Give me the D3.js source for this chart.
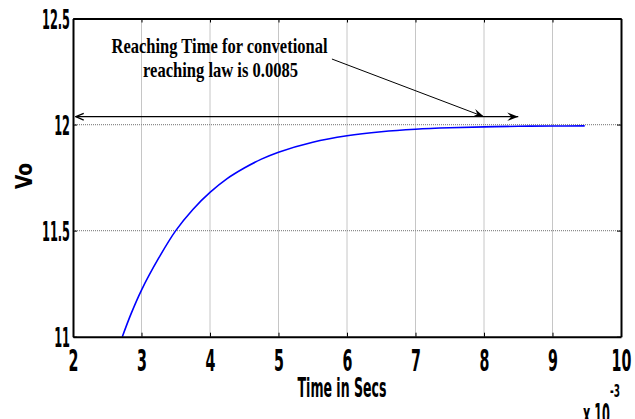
<!DOCTYPE html>
<html lang="en">
<head>
<meta charset="utf-8">
<title>Vo reaching time</title>
<script src="https://cdn.jsdelivr.net/npm/d3@7"></script>
<style>
  body { margin: 0; background: #fff; }
  svg { display: block; }
</style>
</head>
<body>
<script type="text/javascript">

    var width = 635;
    var height = 419;

    // time (x 10^-3 s) and output voltage
    var timeMs = [2.72, 2.85, 3.00, 3.25, 3.50, 3.75, 4.00, 4.25, 4.50, 4.75, 5.00,
                  5.50, 6.00, 6.50, 7.00, 7.50, 8.00, 8.50, 9.00, 9.47];
    var vo = [11.00, 11.11, 11.22, 11.37, 11.50, 11.60, 11.68, 11.745, 11.795, 11.837, 11.87,
              11.917, 11.947, 11.966, 11.978, 11.985, 11.989, 11.992, 11.993, 11.994];

    var xTicks = [2, 3, 4, 5, 6, 7, 8, 9, 10];
    var yTicks = [11, 11.5, 12, 12.5];

    // annotation: double arrow 2 -> 8.5 at 12.037, pointer from text to (8, 12.037)
    var spanArrow = [[2.04, 12.037], [8.5, 12.037]];
    var pointerArrow = [[5.78, 12.309], [8.0, 12.037]];
    var noteLines = ["Reaching Time for convetional", "reaching law is 0.0085"];

    var plotLeft = 73, plotRight = 621, plotTop = 18.5, plotBottom = 336.7;

    var x = d3.scaleLinear().domain([2, 10]).range([plotLeft, plotRight]);
    var y = d3.scaleLinear().domain([11, 12.5]).range([plotBottom, plotTop]);

    var svg = d3.select("body").append("svg")
        .attr("width", width)
        .attr("height", height);

    var defs = svg.append("defs");
    defs.append("marker")
        .attr("id", "head")
        .attr("markerUnits", "userSpaceOnUse")
        .attr("viewBox", "-12 -5 13 10")
        .attr("refX", 0).attr("refY", 0)
        .attr("markerWidth", 13).attr("markerHeight", 10)
        .attr("orient", "auto")
        .append("path")
        .attr("d", "M0,0 L-11,-4.2 L-7,0 L-11,4.2 Z")
        .attr("fill", "black");
    defs.append("marker")
        .attr("id", "openhead")
        .attr("markerUnits", "userSpaceOnUse")
        .attr("viewBox", "-10 -5 11 10")
        .attr("refX", 0).attr("refY", 0)
        .attr("markerWidth", 11).attr("markerHeight", 10)
        .attr("orient", "auto-start-reverse")
        .append("path")
        .attr("d", "M-8,-3.4 L0,0 L-8,3.4")
        .attr("fill", "none")
        .attr("stroke", "black")
        .attr("stroke-width", 1.3);

    // grid
    svg.append("g").selectAll("line")
        .data(xTicks.slice(1, -1))
        .enter().append("line")
        .attr("x1", function (d) { return x(d); })
        .attr("x2", function (d) { return x(d); })
        .attr("y1", plotTop).attr("y2", plotBottom)
        .attr("stroke", "#8c8c8c")
        .attr("stroke-width", 1)
        .attr("stroke-dasharray", "1,1");
    svg.append("g").selectAll("line")
        .data(yTicks.slice(1, -1))
        .enter().append("line")
        .attr("y1", function (d) { return y(d); })
        .attr("y2", function (d) { return y(d); })
        .attr("x1", plotLeft).attr("x2", plotRight)
        .attr("stroke", "#8c8c8c")
        .attr("stroke-width", 1.2)
        .attr("stroke-dasharray", "1,1");

    // curve
    var line = d3.line()
        .x(function (d, i) { return x(timeMs[i]); })
        .y(function (d, i) { return y(vo[i]); })
        .curve(d3.curveCatmullRom);
    svg.append("path")
        .datum(vo)
        .attr("d", line)
        .attr("fill", "none")
        .attr("stroke", "#0000ff")
        .attr("stroke-width", 1.6);

    // axes with inward ticks on all four sides
    var sxX = 0.46, sxY = 0.42;
    var gx = svg.append("g")
        .attr("transform", "translate(0," + plotBottom + ")")
        .call(d3.axisBottom(x).tickValues(xTicks).tickSizeInner(-4).tickSizeOuter(0).tickFormat(d3.format("d")));
    gx.selectAll("text")
        .attr("font-family", "'DejaVu Sans', sans-serif")
        .attr("font-weight", "bold")
        .attr("font-size", 31)
        .attr("fill", "black")
        .attr("dy", null)
        .attr("y", 34)
        .attr("transform", "scale(" + sxX + ",1)");
    var gy = svg.append("g")
        .attr("transform", "translate(" + plotLeft + ",0)")
        .call(d3.axisLeft(y).tickValues(yTicks).tickSizeInner(-4).tickSizeOuter(0).tickFormat(function (d) { return d; }));
    gy.selectAll("text")
        .attr("font-family", "'DejaVu Sans', sans-serif")
        .attr("font-weight", "bold")
        .attr("font-size", 27)
        .attr("fill", "black")
        .attr("dy", "0.36em")
        .attr("x", -3 / sxY)
        .attr("transform", "scale(" + sxY + ",1)");
    svg.append("g")
        .attr("transform", "translate(0," + plotTop + ")")
        .call(d3.axisTop(x).tickValues(xTicks).tickSizeInner(-4).tickSizeOuter(0).tickFormat(""));
    svg.append("g")
        .attr("transform", "translate(" + plotRight + ",0)")
        .call(d3.axisRight(y).tickValues(yTicks).tickSizeInner(-4).tickSizeOuter(0).tickFormat(""));
    svg.selectAll(".domain").attr("stroke", "black").attr("stroke-width", 2);
    svg.selectAll(".tick line").attr("stroke", "black");

    // annotation
    svg.append("line")
        .attr("x1", x(spanArrow[0][0])).attr("y1", y(spanArrow[0][1]))
        .attr("x2", x(spanArrow[1][0])).attr("y2", y(spanArrow[1][1]))
        .attr("stroke", "black").attr("stroke-width", 1.2)
        .attr("marker-start", "url(#openhead)")
        .attr("marker-end", "url(#head)");
    svg.append("line")
        .attr("x1", x(pointerArrow[0][0])).attr("y1", y(pointerArrow[0][1]))
        .attr("x2", x(pointerArrow[1][0])).attr("y2", y(pointerArrow[1][1]))
        .attr("stroke", "black").attr("stroke-width", 1)
        .attr("marker-end", "url(#head)");

    var noteX = [111.5, 143];
    var noteW = [216, 155];
    var noteY = [53, 76.5];
    svg.append("g").selectAll("text")
        .data(noteLines)
        .enter().append("text")
        .attr("x", function (d, i) { return noteX[i]; })
        .attr("y", function (d, i) { return noteY[i]; })
        .attr("textLength", function (d, i) { return noteW[i]; })
        .attr("lengthAdjust", "spacingAndGlyphs")
        .attr("font-family", "'Liberation Serif', 'Times New Roman', serif")
        .attr("font-weight", "bold")
        .attr("font-size", 22)
        .attr("fill", "black")
        .text(function (d) { return d; });

    // axis titles
    svg.append("text")
        .attr("x", 297.5).attr("y", 396.5)
        .attr("textLength", 89)
        .attr("lengthAdjust", "spacingAndGlyphs")
        .attr("font-family", "'DejaVu Sans', sans-serif")
        .attr("font-weight", "bold")
        .attr("font-size", 26)
        .text("Time in Secs");

    svg.append("text")
        .attr("transform", "translate(31.5,176) rotate(-90)")
        .attr("text-anchor", "middle")
        .attr("font-family", "'DejaVu Sans', sans-serif")
        .attr("font-weight", "bold")
        .attr("font-size", 23)
        .attr("textLength", 26)
        .attr("lengthAdjust", "spacingAndGlyphs")
        .text("Vo");

    svg.append("text")
        .attr("x", 583).attr("y", 425)
        .attr("font-family", "'DejaVu Sans', sans-serif")
        .attr("font-weight", "bold")
        .attr("font-size", 30)
        .attr("textLength", 27)
        .attr("lengthAdjust", "spacingAndGlyphs")
        .text("x 10");
    svg.append("text")
        .attr("x", 610).attr("y", 397)
        .attr("font-family", "'DejaVu Sans', sans-serif")
        .attr("font-weight", "bold")
        .attr("font-size", 18)
        .attr("textLength", 10)
        .attr("lengthAdjust", "spacingAndGlyphs")
        .text("-3");

</script>
</body>
</html>
